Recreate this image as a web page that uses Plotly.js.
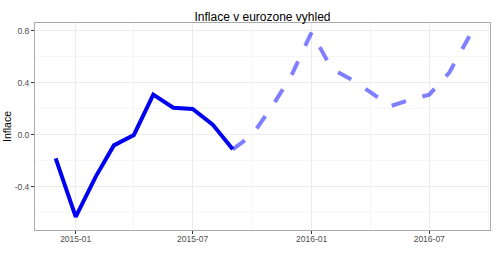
<!DOCTYPE html>
<html>
<head>
<meta charset="utf-8">
<script src="https://cdn.plot.ly/plotly-3.0.1.min.js"></script>
<style>html,body{margin:0;padding:0;background:#fff;}#chart{width:500px;height:258px;}</style>
</head>
<body>
<div id="chart"></div>
<script>
// Actual inflation (solid)
const actualDates = ['2014-12-01','2015-01-01','2015-02-01','2015-03-01','2015-04-01','2015-05-01','2015-06-01','2015-07-01','2015-08-01','2015-09-01'];
const actualValues = [-0.18, -0.63, -0.32, -0.08, 0.0, 0.31, 0.21, 0.20, 0.08, -0.11];
// Forecast (dashed)
const forecastDates = ['2015-09-01','2015-10-01','2015-11-01','2015-12-01','2016-01-01','2016-02-01','2016-03-01','2016-04-01','2016-05-01','2016-06-01','2016-07-01','2016-08-01','2016-09-01'];
const forecastValues = [-0.11, 0.0, 0.22, 0.46, 0.79, 0.51, 0.43, 0.33, 0.22, 0.27, 0.31, 0.48, 0.76];
const xTickVals = ['2015-01-01','2015-07-01','2016-01-01','2016-07-01'];
const xTickText = ['2015-01','2015-07','2016-01','2016-07'];
const yTickVals = [-0.4, 0.0, 0.4, 0.8];
const yTickText = ['-0.4','0.0','0.4','0.8'];

const traces = [
  {x: forecastDates, y: forecastValues, type: 'scatter', mode: 'lines',
   line: {color: 'rgba(0,0,255,0.5)', width: 4, dash: '15px,17px'}, hoverinfo: 'skip'},
  {x: actualDates, y: actualValues, type: 'scatter', mode: 'lines',
   line: {color: '#0000f0', width: 4}, hoverinfo: 'skip'}
];

const layout = {
  width: 500, height: 258,
  margin: {l: 35, r: 10, t: 23, b: 28},
  paper_bgcolor: '#ffffff', plot_bgcolor: '#ffffff',
  showlegend: false,
  font: {family: 'Liberation Sans, Arial, sans-serif', color: '#000'},
  title: {text: 'Inflace v eurozone vyhled', font: {size: 12, color: '#000'},
          x: 0.5, xanchor: 'center', xref: 'paper', y: 1 - 17/258, yanchor: 'middle'},
  xaxis: {
    type: 'date', range: ['2014-10-30', '2016-10-03'],
    tickmode: 'array', tickvals: xTickVals, ticktext: xTickText,
    tickfont: {size: 8.5, color: '#4d4d4d'},
    ticks: 'outside', ticklen: 3, tickcolor: '#333333', tickwidth: 1,
    ticklabelstandoff: -2,
    showgrid: true, gridcolor: '#ebebeb', gridwidth: 1,
    minor: {dtick: 'M3', tick0: '2015-01-01', showgrid: true, gridcolor: '#f6f6f6', gridwidth: 1},
    showline: true, mirror: true, linecolor: '#ababab', linewidth: 1,
    zeroline: false
  },
  yaxis: {
    range: [-0.731, 0.8615],
    tickmode: 'array', tickvals: yTickVals, ticktext: yTickText,
    tickfont: {size: 8.5, color: '#4d4d4d'},
    ticks: 'outside', ticklen: 3, tickcolor: '#333333', tickwidth: 1,
    showgrid: true, gridcolor: '#ebebeb', gridwidth: 1,
    minor: {dtick: 0.2, tick0: 0, showgrid: true, gridcolor: '#f6f6f6', gridwidth: 1},
    showline: true, mirror: true, linecolor: '#ababab', linewidth: 1,
    zeroline: false,
    title: {text: 'Inflace', font: {size: 10.5, color: '#000'}, standoff: 0}
  }
};

Plotly.newPlot('chart', traces, layout, {staticPlot: true, displayModeBar: false});
</script>
</body>
</html>
